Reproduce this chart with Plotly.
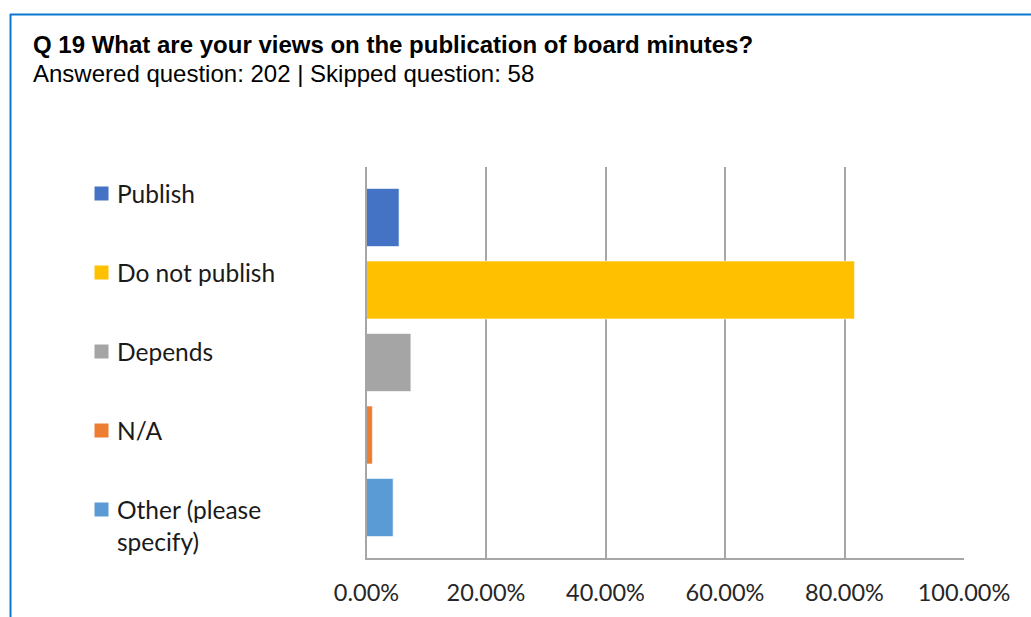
import plotly.graph_objects as go

# Survey responses, Q19 (202 answered)
categories = ["Publish", "Do not publish", "Depends", "N/A", "Other (please specify)"]
label_text = ["Publish", "Do not publish", "Depends", "N/A", "Other (please<br>specify)"]
shares = [5.45, 81.68, 7.43, 0.99, 4.46]
colors = ["#4472C4", "#FFC000", "#A5A5A5", "#ED7D31", "#5B9BD5"]
tick_vals = [0, 20, 40, 60, 80, 100]
tick_text = ["0.00%", "20.00%", "40.00%", "60.00%", "80.00%", "100.00%"]

W, H = 1031, 617
LABEL_FONT = "Lato, Open Sans, sans-serif"
TITLE_FONT = "Liberation Sans, Arial, sans-serif"

# key layout (pixel space of the overlay axes x2/y2)
KEY_X = 101.5
KEY_TEXT_X = 114.5
KEY_TOP = 193.5
KEY_STEP = 79
key_y = [KEY_TOP + KEY_STEP * i for i in range(len(categories))]

fig = go.Figure()

fig.add_trace(go.Bar(
    y=categories, x=shares, orientation="h",
    marker=dict(color=colors, line=dict(color="rgba(255,255,255,0.6)", width=1)),
    xaxis="x", yaxis="y", showlegend=False, hoverinfo="x+y",
))

# coloured key squares beside each category label
fig.add_trace(go.Scatter(
    y=key_y, x=[KEY_X] * len(categories), mode="markers",
    marker=dict(symbol="square", size=14, color=colors, line=dict(width=0)),
    xaxis="x2", yaxis="y2", showlegend=False, hoverinfo="skip",
))

annotations = []
for ky, txt in zip(key_y, label_text):
    annotations.append(dict(
        xref="x2", yref="y2", x=KEY_TEXT_X, y=ky, text=txt,
        xanchor="left", yanchor="top", yshift=17, showarrow=False, align="left",
        font=dict(family=LABEL_FONT, size=24.5, color="#1a1a1a"),
    ))

annotations += [
    dict(xref="paper", yref="paper", x=31 / W, y=1 - 44 / H, xanchor="left", yanchor="middle",
         text="<b>Q 19 What are your views on the publication of board minutes?</b>",
         showarrow=False, font=dict(family=TITLE_FONT, size=24, color="#000000")),
    dict(xref="paper", yref="paper", x=31 / W, y=1 - 73 / H, xanchor="left", yanchor="middle",
         text="Answered question: 202 | Skipped question: 58",
         showarrow=False, font=dict(family=TITLE_FONT, size=24, color="#000000")),
]

# frame lines along the top and left edge
shapes = [
    dict(type="line", xref="paper", yref="paper", x0=10 / W, x1=1, y0=1 - 14.5 / H, y1=1 - 14.5 / H,
         line=dict(color="#0A78D2", width=2)),
    dict(type="line", xref="paper", yref="paper", x0=10.5 / W, x1=10.5 / W, y0=0, y1=1 - 14 / H,
         line=dict(color="#0A78D2", width=2)),
]

fig.update_layout(
    width=W, height=H,
    autosize=False,
    margin=dict(l=0, r=0, t=0, b=0, pad=0),
    paper_bgcolor="white", plot_bgcolor="rgba(0,0,0,0)",
    bargap=0.2,
    xaxis=dict(
        domain=[366.5 / W, 964 / W], range=[0, 100],
        tickvals=tick_vals, ticktext=tick_text,
        showgrid=True, gridcolor="#A6A6A6", gridwidth=1.5,
        zeroline=False, showline=True, linecolor="#A6A6A6", linewidth=1.5,
        ticks="", ticklabelstandoff=13, automargin=False,
        tickfont=dict(family=LABEL_FONT, size=23.5, color="#262626"),
        fixedrange=True,
    ),
    yaxis=dict(
        domain=[1 - 558 / H, 1 - 167 / H], range=[4.697, -0.697],
        showticklabels=False, showgrid=False, zeroline=False, automargin=False,
        showline=True, linecolor="#A6A6A6", linewidth=1.5, ticks="",
        fixedrange=True,
    ),
    xaxis2=dict(domain=[0, 1], range=[0, W], visible=False, anchor="y2",
                automargin=False, fixedrange=True),
    yaxis2=dict(domain=[0, 1], range=[H, 0], visible=False, anchor="x2",
                automargin=False, fixedrange=True),
    annotations=annotations,
    shapes=shapes,
)

fig.write_html("out.html")
